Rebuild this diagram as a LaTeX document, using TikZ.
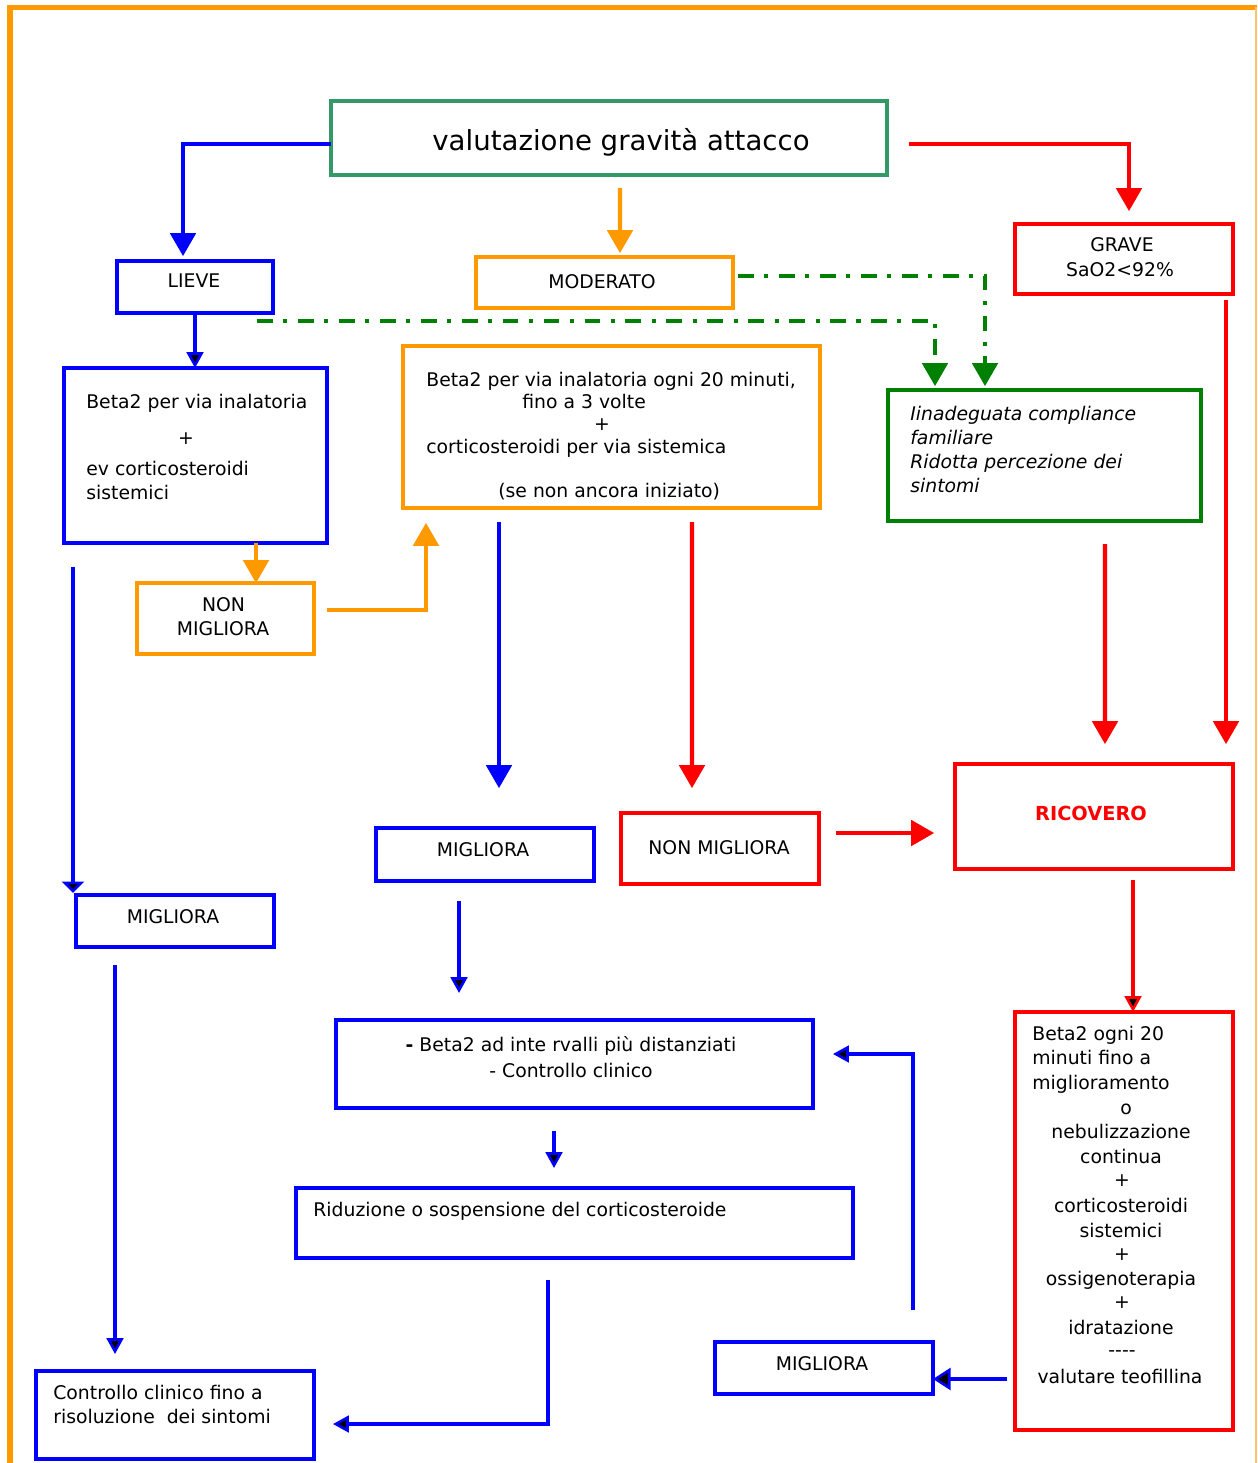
\documentclass[tikz,border=0pt]{standalone}
\usepackage{fontspec}
\setmainfont{DejaVu Sans}
\usetikzlibrary{arrows.meta}
\definecolor{cOr}{HTML}{FF9900}
\definecolor{cOl}{HTML}{FFC46B}
\definecolor{cBl}{HTML}{0000FF}
\definecolor{cRd}{HTML}{FF0000}
\definecolor{cGr}{HTML}{008000}
\definecolor{cTg}{HTML}{339966}
\tikzset{
  bigtip/.tip={Triangle[width=15pt,length=13pt,line width=0pt]},
  stip/.tip={Triangle[width=9.5pt,length=9pt,fill=black,line width=1.5pt]},
  flattip/.tip={Triangle[width=12.5pt,length=6.5pt,fill=black,line width=1.5pt]},
  widetip/.tip={Triangle[width=12.5pt,length=10pt,fill=black,line width=1.5pt]},
}
\begin{document}
\begin{tikzpicture}[x=0.02cm, y=-0.02cm,
  font=\fontsize{10.7}{13.9}\selectfont,
  hx/.style={xshift=(#1)*0.02cm},
  vy/.style={yshift=-(#1)*0.02cm},
  wh/.style 2 args={minimum width=#1*0.02cm, minimum height=#2*0.02cm},
  box/.style={draw, line width=2.7pt, inner sep=0pt, outer sep=0pt, rectangle},
  lt/.style={inner sep=0pt, anchor=base west},
  ct/.style={inner sep=0pt, anchor=base},
  barr/.style={line width=2.3pt, -bigtip},
  sarr/.style={line width=2pt, -stip},
  dd/.style={cGr, line width=2.3pt, dash pattern=on 9pt off 6pt on 2.3pt off 6pt, -bigtip},
]
\useasboundingbox (0,0) rectangle (1257,1463);

% page frame
\draw[cOr, line width=3.3pt] (10,1463) -- (10,7.5) -- (1257,7.5);
\draw[cOl, line width=0.7pt] (1256,7.5) -- (1256,1463);

% boxes
\node[box, draw=cTg, wh={556}{74}] (t) at (609,138) {};
\node[box, draw=cBl, wh={156}{52}] (lieve) at (195,287) {};
\node[box, draw=cOr, wh={257}{51}] (mod) at (604.5,282.5) {};
\node[box, draw=cRd, wh={218}{70}] (grave) at (1124,259) {};
\node[box, draw=cBl, wh={263}{175}] (b1) at (195.5,455.5) {};
\node[box, draw=cOr, wh={417}{162}] (b2) at (611.5,427) {};
\node[box, draw=cGr, wh={313}{131}] (gc) at (1044.5,455.5) {};
\node[box, draw=cOr, wh={177}{71}] (nm1) at (225.5,618.5) {};
\node[box, draw=cBl, wh={218}{53}] (m2) at (485,854.5) {};
\node[box, draw=cRd, wh={198}{71}] (nm2) at (720,848.5) {};
\node[box, draw=cRd, wh={278}{105}] (ric) at (1094,816.5) {};
\node[box, draw=cBl, wh={198}{52}] (m1) at (175,921) {};
\node[box, draw=cBl, wh={477}{88}] (bi) at (574.5,1064) {};
\node[box, draw=cBl, wh={557}{70}] (rid) at (574.5,1223) {};
\node[box, draw=cRd, wh={218}{418}] (rb) at (1124,1221) {};
\node[box, draw=cBl, wh={218}{52}] (m3) at (824,1368) {};
\node[box, draw=cBl, wh={278}{88}] (cc) at (175,1415) {};

% texts
\node[ct, font=\fontsize{15.7}{18}\selectfont] (t-l) at (621,151) {valutazione gravità attacco};
\node[ct] (lieve-l) at (194,287) {LIEVE};
\node[ct] (mod-l) at (602,288) {MODERATO};
\node[ct] (grave-l1) at (1122,252) {GRAVE};
\node[ct] (grave-l2) at (1120,276) {SaO2<92\%};

\node[lt] (b1-l1) at (86,408) {Beta2 per via inalatoria};
\node[ct] (b1-l2) at (186,444) {+};
\node[lt] (b1-l3) at (86,475) {ev corticosteroidi};
\node[lt] (b1-l4) at (86,499) {sistemici};

\node[lt] (b2-l1) at (426,386) {Beta2 per via inalatoria ogni 20 minuti,};
\node[lt] (b2-l2) at (522,408) {fino a 3 volte};
\node[ct] (b2-l3) at (602,430) {+};
\node[lt] (b2-l4) at (426,453) {corticosteroidi per via sistemica};
\node[lt] (b2-l5) at (498,497) {(se non ancora iniziato)};

\node[lt, font=\fontsize{10.7}{13.9}\selectfont\itshape] (gc-l1) at (910,420) {Iinadeguata compliance};
\node[lt, font=\fontsize{10.7}{13.9}\selectfont\itshape] (gc-l2) at (910,444) {familiare};
\node[lt, font=\fontsize{10.7}{13.9}\selectfont\itshape] (gc-l3) at (910,468) {Ridotta percezione dei};
\node[lt, font=\fontsize{10.7}{13.9}\selectfont\itshape] (gc-l4) at (910,492) {sintomi};

\node[ct] (nm1-l1) at (223.5,611) {NON};
\node[ct] (nm1-l2) at (223,635) {MIGLIORA};
\node[ct] (m2-l) at (483,856) {MIGLIORA};
\node[ct] (nm2-l) at (719,854) {NON MIGLIORA};
\node[ct, text=cRd, font=\fontsize{11}{13.9}\selectfont\bfseries] (ric-l) at (1091,820) {RICOVERO};
\node[ct] (m1-l) at (173,923) {MIGLIORA};
\node[ct] (m3-l) at (822,1370) {MIGLIORA};

\node[ct] (bi-l1) at (571,1051) {\textbf{-} Beta2 ad inte rvalli più distanziati};
\node[ct] (bi-l2) at (571,1077) {- Controllo clinico};
\node[lt] (rid-l) at (313,1216) {Riduzione o sospensione del corticosteroide};
\node[lt] (cc-l1) at (53,1399) {Controllo clinico fino a};
\node[lt] (cc-l2) at (53,1423) {risoluzione\ \ dei sintomi};

\node[lt] (rb-l1) at (1032,1040) {Beta2 ogni 20};
\node[lt] (rb-l2) at (1032,1064) {minuti fino a};
\node[lt] (rb-l3) at (1032,1089) {miglioramento};
\node[ct] (rb-l4) at (1126,1114) {o};
\node[ct] (rb-l5) at (1121,1138) {nebulizzazione};
\node[ct] (rb-l6) at (1121,1163) {continua};
\node[ct] (rb-l7) at (1122,1186) {+};
\node[ct] (rb-l8) at (1121,1212) {corticosteroidi};
\node[ct] (rb-l9) at (1121,1237) {sistemici};
\node[ct] (rb-l10) at (1122,1260) {+};
\node[ct] (rb-l11) at (1121,1285) {ossigenoterapia};
\node[ct] (rb-l12) at (1122,1308) {+};
\node[ct] (rb-l13) at (1121,1334) {idratazione};
\node[ct] (rb-l14) at (1122,1356) {-{}-{}-{}-};
\node[ct] (rb-l15) at (1120,1383) {valutare teofillina};

% connectors from the assessment box
\draw[barr, cBl, shorten >=0.1cm] ([vy=6]t.west) -| ([hx=-12]lieve.north);
\draw[barr, cOr, shorten >=0.08cm] ([hx=11,vy=13]t.south) -- ([hx=15.5]mod.north);
\draw[barr, cRd, shorten >=0.26cm] ([hx=22,vy=6]t.east) -| ([hx=5]grave.north);

% dash-dot links to the compliance box
\draw[dd, shorten >=0.08cm] ([hx=-16,vy=8]lieve.south east) -| ([hx=-109.5]gc.north);
\draw[dd, shorten >=0.08cm] ([hx=5,vy=-6.5]mod.east) -| ([hx=-59.5]gc.north);

% mild branch
\draw[sarr, cBl] (lieve.south) -- (lieve.south |- b1.north);
\draw[barr, cOr] ([hx=60.5]b1.south) -- ([hx=30.5]nm1.north);
\draw[barr, cOr, shorten >=0.3cm] ([hx=13,vy=-8.5]nm1.east) -| ([hx=-185.5]b2.south);
\draw[line width=2pt, cBl, -flattip] ([hx=9,vy=24]b1.south west) -- ([hx=-3,vy=-2]m1.north west);
\draw[sarr, cBl, shorten >=0.34cm] ([hx=-60,vy=18]m1.south) -- ([hx=-60]cc.north);

% moderate branch
\draw[barr, cBl, shorten >=0.8cm] ([hx=-112.5,vy=14]b2.south) -- ([hx=14]m2.north);
\draw[barr, cRd, shorten >=0.5cm] ([hx=80.5,vy=14]b2.south) -- ([hx=-28]nm2.north);
\draw[barr, cRd, shorten >=0.42cm] ([hx=17,vy=-15.5]nm2.east) coordinate (p11) -- (p11 -| ric.west);
\draw[sarr, cBl, shorten >=0.54cm] ([hx=-26,vy=20]m2.south) -- ([hx=-115.5]bi.north);
\draw[sarr, cBl, shorten >=0.4cm] ([hx=-20.5,vy=23]bi.south) -- ([hx=-20.5]rid.north);
\draw[sarr, cBl, shorten >=0.38cm] ([hx=-26.5,vy=22]rid.south) |- ([vy=9]cc.east);

% severe branch
\draw[barr, cRd, shorten >=0.4cm] ([hx=60.5,vy=23]gc.south) -- ([hx=11]ric.north);
\draw[barr, cRd, shorten >=0.4cm] ([hx=102,vy=6]grave.south) -- ([hx=132]ric.north);
\draw[line width=2.3pt, cRd, -stip] ([hx=39,vy=11]ric.south) -- ([hx=9]rb.north);
\draw[line width=2.3pt, cBl, -widetip] ([hx=-8,vy=158]rb.west) coordinate (p19) -- (p19 -| m3.east);
\draw[sarr, cBl, shorten >=0.4cm] ([hx=89,vy=-32]m3.north) |- ([vy=-10]bi.east);

\end{tikzpicture}
\end{document}
